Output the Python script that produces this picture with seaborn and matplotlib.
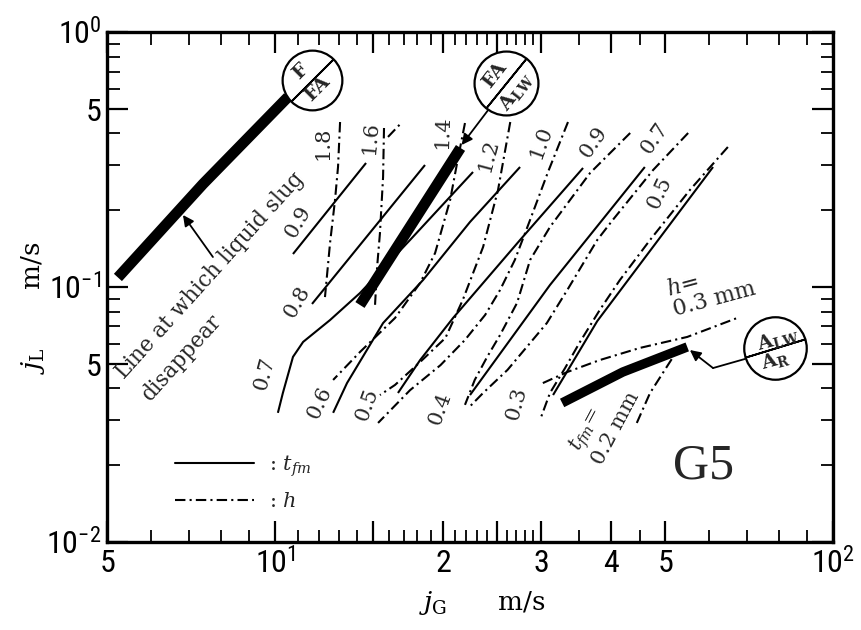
import numpy as np
import pandas as pd
import matplotlib
matplotlib.use("Agg")
import matplotlib.pyplot as plt
import seaborn as sns
from matplotlib.lines import Line2D
from matplotlib.ticker import FixedLocator, NullFormatter
from matplotlib import font_manager as fm

sns.set_theme(style="ticks")
plt.rcParams['font.family'] = ['DejaVu Serif']
plt.rcParams['mathtext.fontset'] = 'custom'
plt.rcParams['mathtext.rm'] = 'DejaVu Serif'
plt.rcParams['mathtext.it'] = 'DejaVu Serif:italic'
plt.rcParams['mathtext.bf'] = 'DejaVu Serif:bold'


def pick_narrow():
    prefs = ['Liberation Sans Narrow', 'Roboto Condensed', 'Open Sans Condensed',
             'Noto Sans', 'DejaVu Sans', 'Open Sans', 'Roboto']
    ents = [f for f in fm.fontManager.ttflist
            if str(f.style) == 'normal' and str(f.weight) in ('400', 'normal', 'regular')]
    for name in prefs:
        for f in ents:
            if f.name == name and ('condensed' in str(f.stretch) or 'Narrow' in f.name
                                   or 'Condensed' in f.name):
                return f"{f.name}:stretch={f.stretch}"
    for f in ents:
        if 'Narrow' in f.name or 'Condensed' in f.name or 'condensed' in str(f.stretch):
            return f"{f.name}:stretch={f.stretch}"
    return 'Liberation Sans'


plt.rcParams['mathtext.sf'] = pick_narrow()

# ---------------- data (jG [m/s], jL [m/s]) ----------------
# thick boundary lines
slug_jG = [5.23, 7.43, 10.55]
slug_jL = [0.109, 0.2535, 0.556]
faalw_jG = [14.2, 21.5]
faalw_jL = [0.085, 0.351]
alwar_jG = [32.7, 42.0, 54.8]
alwar_jL = [0.0351, 0.0464, 0.0582]

# t_fm contours (solid)
tfm09_jG = [10.77, 14.56]
tfm09_jL = [0.1347, 0.3064]
tfm08_jG = [11.65, 18.57]
tfm08_jL = [0.0858, 0.3009]
tfm07_jG = [10.12, 10.33, 10.77, 11.23, 12.55, 14.2, 17.46, 22.64]
tfm07_jL = [0.0321, 0.0384, 0.0532, 0.0609, 0.0742, 0.0947, 0.1529, 0.2825]
tfm06_jG = [12.71, 13.46, 15.62, 18.42, 22.36, 27.49]
tfm06_jL = [0.0321, 0.0420, 0.0722, 0.1065, 0.1799, 0.2955]
tfm05_jG = [16.61, 18.20, 20.85, 27.49, 35.65]
tfm05_jL = [0.0384, 0.0517, 0.0756, 0.1529, 0.2929]
tfm04_jG = [22.36, 31.1, 46.0]
tfm04_jL = [0.0377, 0.1018, 0.2955]
tfm03_jG = [31.5, 37.8, 60.95]
tfm03_jL = [0.0377, 0.0735, 0.2955]
tfm02_jG = [44.5, 47.0, 51.7]
tfm02_jL = [0.0293, 0.0384, 0.0532]

# h contours (dash-dot)
h18_jG = [13.08, 12.97, 12.81, 12.55, 12.29]
h18_jL = [0.4436, 0.2955, 0.2194, 0.1488, 0.0913]
h16_jG = [15.68, 15.62, 15.42, 15.24, 15.11]
h16_jL = [0.4203, 0.2700, 0.1628, 0.1198, 0.0850]
h16b_jG = [15.94, 16.90]
h16b_jL = [0.3877, 0.4436]
h14_jG = [21.9, 21.2, 20.6, 19.36, 18.2, 16.41, 14.2, 12.71]
h14_jL = [0.4396, 0.3064, 0.2194, 0.1359, 0.1037, 0.0756, 0.0556, 0.0432]
h12_jG = [26.4, 25.1, 23.6, 21.7, 20.2, 18.2, 16.41, 15.42]
h12_jL = [0.4436, 0.2401, 0.1435, 0.0889, 0.0631, 0.0508, 0.0413, 0.0377]
h10_jG = [33.5, 30.85, 28.65, 26.9, 25.31, 23.8, 21.9, 19.8, 17.46, 15.3]
h10_jL = [0.4436, 0.2825, 0.1832, 0.1276, 0.0973, 0.0777, 0.0620, 0.0494, 0.0394, 0.0293]
h09_jG = [43.3, 36.7, 31.1, 28.65, 27.15, 25.31, 24.0, 22.8, 21.9]
h09_jL = [0.4017, 0.2800, 0.1719, 0.1276, 0.0866, 0.0648, 0.0532, 0.0432, 0.0345]
h07_jG = [55.0, 47.6, 40.3, 37.8, 33.4, 30.7, 28.65, 26.1, 23.6, 22.2]
h07_jL = [0.4017, 0.2876, 0.1832, 0.1529, 0.0973, 0.0722, 0.0603, 0.0473, 0.0384, 0.0335]
h05_jG = [64.8, 55.4, 47.0, 41.5, 38.2, 35.2, 33.1, 31.1, 29.85]
h05_jL = [0.3540, 0.2401, 0.1529, 0.1065, 0.0813, 0.0609, 0.0481, 0.0384, 0.0301]
h03_jG = [30.2, 33.4, 38.2, 45.1, 54.8, 68.1]
h03_jL = [0.0420, 0.0464, 0.0517, 0.0577, 0.0637, 0.0763]

# curve labels: text, jG, jL, rotation
h_labels = ['1.8', '1.6', '1.4', '1.2', '1.0', '0.9', '0.7', '0.5']
h_label_jG = [12.19, 14.8, 20.0, 24.1, 30.0, 37.2, 48.0, 49.0]
h_label_jL = [0.367, 0.384, 0.4055, 0.3293, 0.3704, 0.3704, 0.384, 0.2337]
h_label_rot = [90, 85, 88, 75, 70, 55, 55, 65]
t_labels = ['0.9', '0.8', '0.7', '0.6', '0.5', '0.4', '0.3']
t_label_jG = [11.0, 10.95, 9.60, 12.04, 14.6, 19.8, 27.15]
t_label_jL = [0.1799, 0.0873, 0.0460, 0.0351, 0.0345, 0.0335, 0.0351]
t_label_rot = [60, 60, 75, 65, 70, 70, 75]

# circled regime labels (centres)
circ_jG = [11.65, 25.95, 78.7]
circ_jL = [0.648, 0.631, 0.0577]

# axis ticks
xmajor = [5, 10, 15, 20, 25, 30, 40, 50, 100]
xmajor_lab = [r'$\mathsf{5}$', r'$\mathsf{10}^{\mathsf{1}}$', '', r'$\mathsf{2}$', '',
              r'$\mathsf{3}$', r'$\mathsf{4}$', r'$\mathsf{5}$', r'$\mathsf{10}^{\mathsf{2}}$']
xminor = [6, 7, 8, 9] + list(range(11, 15)) + list(range(16, 20)) + list(range(21, 25)) + \
         list(range(26, 30)) + [35, 45, 60, 70, 80, 90]
ymajor = [0.01, 0.05, 0.1, 0.5, 1.0]
ymajor_lab = [r'$\mathsf{10}^{\mathsf{-2}}$', r'$\mathsf{5}$', r'$\mathsf{10}^{\mathsf{-1}}$',
              r'$\mathsf{5}$', r'$\mathsf{10}^{\mathsf{0}}$']
yminor = [0.02, 0.03, 0.04, 0.06, 0.07, 0.08, 0.09, 0.2, 0.3, 0.4, 0.6, 0.7, 0.8, 0.9]

# ---------------- figure ----------------
fig = plt.figure(figsize=(8.61, 6.30), dpi=100)
ax = fig.add_axes([0.1243, 0.1397, 0.8432, 0.8095])
ax.set_xscale('log')
ax.set_yscale('log')

DASHDOT = (0, (5, 2, 1, 2))
LW = 1.5


def draw(xs, ys, ls='-', lw=LW, z=2):
    sns.lineplot(x=np.array(xs), y=np.array(ys), sort=False, estimator=None,
                 color='black', linewidth=lw, linestyle=ls, ax=ax, zorder=z,
                 solid_capstyle='butt')


for xs, ys in [(tfm09_jG, tfm09_jL), (tfm08_jG, tfm08_jL), (tfm07_jG, tfm07_jL),
               (tfm06_jG, tfm06_jL), (tfm05_jG, tfm05_jL), (tfm04_jG, tfm04_jL),
               (tfm03_jG, tfm03_jL)]:
    draw(xs, ys, '-')

for xs, ys in [(h18_jG, h18_jL), (h16_jG, h16_jL), (h16b_jG, h16b_jL), (h14_jG, h14_jL),
               (h12_jG, h12_jL), (h10_jG, h10_jL), (h09_jG, h09_jL), (h07_jG, h07_jL),
               (h05_jG, h05_jL), (h03_jG, h03_jL), (tfm02_jG, tfm02_jL)]:
    draw(xs, ys, DASHDOT)

draw(slug_jG, slug_jL, '-', lw=7.8, z=3)
draw(faalw_jG, faalw_jL, '-', lw=7.8, z=3)
draw(alwar_jG, alwar_jL, '-', lw=6.8, z=3)

ax.set_xlim(5, 100)
ax.set_ylim(0.01, 1.0)

# curve labels
for t, x, y, r in zip(h_labels, h_label_jG, h_label_jL, h_label_rot):
    ax.text(x, y, t, rotation=r, rotation_mode='anchor', ha='center', va='center',
            fontsize=15, zorder=5)
for t, x, y, r in zip(t_labels, t_label_jG, t_label_jL, t_label_rot):
    ax.text(x, y, t, rotation=r, rotation_mode='anchor', ha='center', va='center',
            fontsize=15, zorder=5)

# circles with dividers
circ_size = [43, 46, 45]
div_angle = [-45, -39, -73]
for x, y, s, a in zip(circ_jG, circ_jL, circ_size, div_angle):
    ax.plot([x], [y], marker='o', markersize=s, markerfacecolor='white',
            markeredgecolor='black', markeredgewidth=1.6, zorder=6)
    ax.plot([x], [y], marker=(2, 2, a), markersize=s, markeredgecolor='black',
            markeredgewidth=1.3, zorder=7)

tk = dict(textcoords='offset points', ha='center', va='center', zorder=8,
          fontsize=14, fontweight='bold', rotation_mode='anchor')
ax.annotate('F', xy=(circ_jG[0], circ_jL[0]), xytext=(-8, 6), rotation=45, **tk)
ax.annotate('FA', xy=(circ_jG[0], circ_jL[0]), xytext=(4, -6), rotation=45, **tk)
ax.annotate('FA', xy=(circ_jG[1], circ_jL[1]), xytext=(-8, 6), rotation=52, **tk)
ax.annotate(r'$\mathbf{A}_{\mathbf{LW}}$', xy=(circ_jG[1], circ_jL[1]), xytext=(7, -6),
            rotation=52, **tk)
ax.annotate(r'$\mathbf{A}_{\mathbf{LW}}$', xy=(circ_jG[2], circ_jL[2]), xytext=(2, 6),
            rotation=15, **tk)
ax.annotate(r'$\mathbf{A}_{\mathbf{R}}$', xy=(circ_jG[2], circ_jL[2]), xytext=(0, -9),
            rotation=15, **tk)

# arrows
ap = dict(arrowstyle='-|>', color='black', lw=1.3, mutation_scale=16, shrinkA=0, shrinkB=0)
ax.annotate('', xy=(6.84, 0.1916), xytext=(7.74, 0.1311), arrowprops=ap, zorder=8)
ax.annotate('', xy=(21.6, 0.3604), xytext=(24.1, 0.4944), arrowprops=ap, zorder=8)
ax.plot([69.5, 60.95], [0.0522, 0.0481], color='black', lw=1.3, zorder=8)
ax.annotate('', xy=(55.4, 0.0566), xytext=(60.95, 0.0481), arrowprops=ap, zorder=8)

# texts
ax.text(5.38, 0.0432, 'Line at which liquid slug', rotation=48, rotation_mode='anchor',
        ha='left', va='baseline', fontsize=15.5, zorder=5)
ax.text(5.97, 0.0354, 'disappear', rotation=48, rotation_mode='anchor',
        ha='left', va='baseline', fontsize=15.5, zorder=5)
ax.text(50.4, 0.0973, r'$h$=', rotation=15, rotation_mode='anchor', ha='left', va='center',
        fontsize=16)
ax.text(51.7, 0.0813, '0.3 mm', rotation=15, rotation_mode='anchor', ha='left', va='center',
        fontsize=16)
ax.text(36.2, 0.0275, r'$t_{fm}$=', rotation=62, rotation_mode='anchor', ha='center',
        va='center', fontsize=15)
ax.text(40.8, 0.0280, '0.2 mm', rotation=62, rotation_mode='anchor', ha='center',
        va='center', fontsize=15)
ax.text(58.5, 0.01987, 'G5', ha='center', va='center', fontsize=36,
        family='Liberation Serif')

# legend
handles = [Line2D([], [], color='black', lw=LW, ls='-'),
           Line2D([], [], color='black', lw=LW, ls=DASHDOT)]
ax.legend(handles, [r': $t_{fm}$', r': $h$'], loc='center left',
          bbox_to_anchor=(0.094, 0.117), frameon=False, fontsize=15,
          handlelength=3.8, handletextpad=0.7, labelspacing=0.65,
          borderpad=0, borderaxespad=0)

# ticks & axes
ax.xaxis.set_major_locator(FixedLocator(xmajor))
ax.set_xticklabels(xmajor_lab)
ax.xaxis.set_minor_locator(FixedLocator(xminor))
ax.xaxis.set_minor_formatter(NullFormatter())
ax.yaxis.set_major_locator(FixedLocator(ymajor))
ax.set_yticklabels(ymajor_lab)
ax.yaxis.set_minor_locator(FixedLocator(yminor))
ax.yaxis.set_minor_formatter(NullFormatter())
ax.tick_params(which='both', direction='in', top=True, right=True, color='black',
               labelsize=23, labelcolor='black')
ax.tick_params(which='major', length=15, width=1.6, pad=4)
ax.tick_params(which='minor', length=9, width=1.3)
for sp in ax.spines.values():
    sp.set_linewidth(2.4)
    sp.set_color('black')
ax.grid(False)
ax.set_facecolor('white')

ax.set_xlabel(r'$j_{\mathrm{G}}$      m/s', fontsize=19, color='black')
ax.xaxis.set_label_coords(0.517, -0.092)
ax.set_ylabel(r'$j_{\mathrm{L}}$       m/s', fontsize=19, color='black')
ax.yaxis.set_label_coords(-0.082, 0.46)

fig.savefig('out.png', dpi=100, facecolor='white')
